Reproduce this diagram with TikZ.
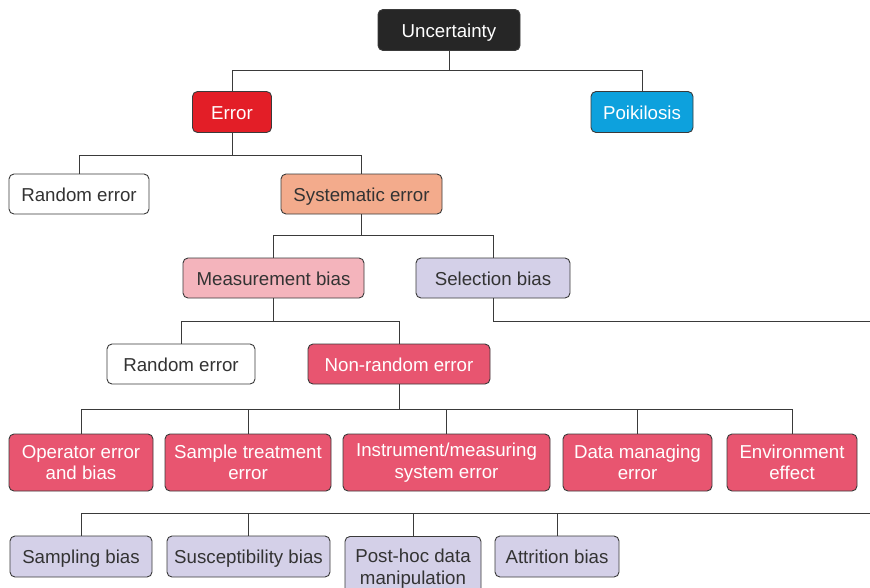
\documentclass[tikz,border=0pt]{standalone}
\usepackage{fontspec}
\setmainfont{Liberation Sans}
\definecolor{darkbox}{HTML}{262626}
\definecolor{errred}{HTML}{E31E27}
\definecolor{poiblue}{HTML}{0DA1DD}
\definecolor{salmon}{HTML}{F3AB8C}
\definecolor{pinkbox}{HTML}{F4B4BC}
\definecolor{lavbox}{HTML}{D4D0E8}
\definecolor{nrred}{HTML}{E85570}
\definecolor{linecol}{HTML}{3A3A3A}
\definecolor{textdark}{HTML}{333333}
\begin{document}
\begin{tikzpicture}[x=1pt,y=-1pt,
  box/.style={draw=linecol, line width=0.9pt, rounded corners=5pt, align=center,
    inner sep=0pt, font=\fontsize{18.7}{21.5}\selectfont, text=textdark},
  one/.style={text height=15.5pt, text depth=1.5pt},
  wbox/.style={box, text=white},
  conn/.style={draw=linecol, line width=1pt}]
\useasboundingbox (0,0) rectangle (870,587);
\node[wbox, one, fill=darkbox, minimum width=142pt, minimum height=41pt] (unc) at (449,30) {Uncertainty};
\node[wbox, one, fill=errred, minimum width=79pt, minimum height=41pt] (err) at (232,112) {Error};
\node[wbox, one, fill=poiblue, minimum width=102pt, minimum height=41pt] (poi) at (642,112) {Poikilosis};
\node[box, one, fill=white, minimum width=140pt, minimum height=40pt] (rnd1) at (79,194) {Random error};
\node[box, one, fill=salmon, minimum width=161pt, minimum height=40pt] (sys) at (361.5,194) {Systematic error};
\node[box, one, fill=pinkbox, minimum width=181pt, minimum height=40pt] (meas) at (273.5,278) {Measurement bias};
\node[box, one, fill=lavbox, minimum width=154pt, minimum height=40pt] (sel) at (493,278) {Selection bias};
\node[box, one, fill=white, minimum width=148pt, minimum height=40pt] (rnd2) at (181,364) {Random error};
\node[wbox, one, fill=nrred, minimum width=182pt, minimum height=40pt] (nr) at (399,364) {Non-random error};
\node[wbox, fill=nrred, minimum width=144pt, minimum height=57pt] (op) at (81,462.5) {Operator error\\and bias};
\node[wbox, fill=nrred, minimum width=166pt, minimum height=57pt] (st) at (248,462.5) {Sample treatment\\error};
\node[wbox, fill=nrred, minimum width=207pt, minimum height=57pt] (ins) at (446.5,462.5) {Instrument/measuring\\system error};
\node[wbox, fill=nrred, minimum width=149pt, minimum height=57pt] (dm) at (637.5,462.5) {Data managing\\error};
\node[wbox, fill=nrred, minimum width=130pt, minimum height=57pt] (env) at (792,462.5) {Environment\\effect};
\node[box, one, fill=lavbox, minimum width=142pt, minimum height=41pt] (samp) at (81,556.5) {Sampling bias};
\node[box, one, fill=lavbox, minimum width=163pt, minimum height=41pt] (sus) at (248.5,556.5) {Susceptibility bias};
\node[box, fill=lavbox, minimum width=136pt, minimum height=64pt, anchor=north] (post) at (413,536) {Post-hoc data\\manipulation};
\node[box, one, fill=lavbox, minimum width=124pt, minimum height=41pt] (att) at (557,556.5) {Attrition bias};
% bus levels
\coordinate (b1) at (0,70);
\coordinate (b2) at (0,155);
\coordinate (b3) at (0,235);
\coordinate (b4) at (0,321);
\coordinate (b5) at (0,409);
\coordinate (b6) at (0,513);
\coordinate (selend) at (870,321);
\coordinate (botend) at (870,513);
% connectors
\draw[conn] (unc.south) -- (unc.south |- b1);
\draw[conn] (err.north) -- (err.north |- b1) -- (poi.north |- b1) -- (poi.north);
\draw[conn] (err.south) -- (err.south |- b2);
\draw[conn] (rnd1.north) -- (rnd1.north |- b2) -- (sys.north |- b2) -- (sys.north);
\draw[conn] (sys.south) -- (sys.south |- b3);
\draw[conn] (meas.north) -- (meas.north |- b3) -- (sel.north |- b3) -- (sel.north);
\draw[conn] (meas.south) -- (meas.south |- b4);
\draw[conn] (rnd2.north) -- (rnd2.north |- b4) -- (nr.north |- b4) -- (nr.north);
\draw[conn] (sel.south) -- (sel.south |- selend) -- (selend);
\draw[conn] (nr.south) -- (nr.south |- b5);
\draw[conn] (op.north) -- (op.north |- b5) -- (env.north |- b5) -- (env.north);
\draw[conn] (st.north) -- (st.north |- b5);
\draw[conn] (ins.north) -- (ins.north |- b5);
\draw[conn] (dm.north) -- (dm.north |- b5);
\draw[conn] (samp.north) -- (samp.north |- b6) -- (botend);
\draw[conn] (sus.north) -- (sus.north |- b6);
\draw[conn] (post.north) -- (post.north |- b6);
\draw[conn] (att.north) -- (att.north |- b6);
\end{tikzpicture}
\end{document}
